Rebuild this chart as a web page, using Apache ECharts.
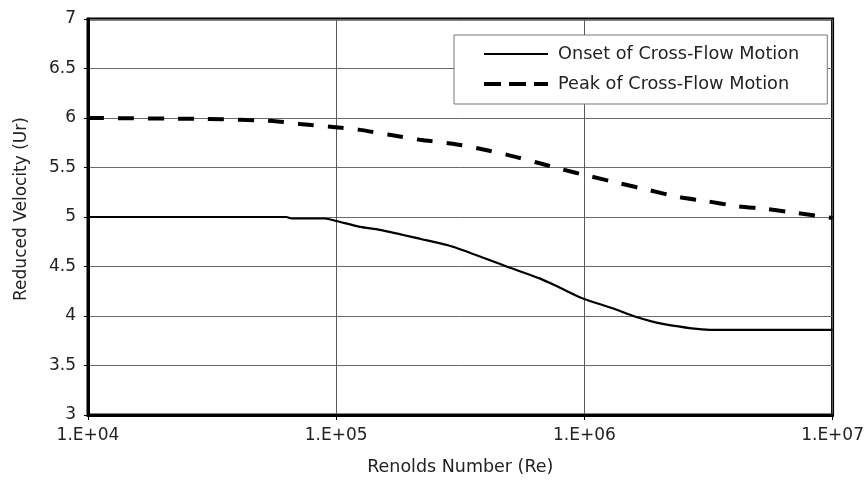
<!DOCTYPE html>
<html>
<head>
<meta charset="utf-8">
<script src="https://cdn.jsdelivr.net/npm/echarts@6/dist/echarts.min.js"></script>
<style>
  html, body { margin: 0; padding: 0; background: #fff; }
  #chart { width: 867px; height: 481px; }
</style>
</head>
<body>
<div id="chart"></div>
<script>
// Reynolds numbers and reduced velocities for the two curves
const onsetRe = [1e4, 6.3e4, 6.6e4, 9.0e4, 1.0e5, 1.25e5, 1.5e5, 2.17e5, 2.95e5, 4.86e5, 6.6e5, 7.9e5, 9.8e5, 1.29e6, 1.62e6, 2.07e6, 3.2e6, 1e7];
const onsetUr = [5.00, 5.00, 4.985, 4.985, 4.96, 4.90, 4.87, 4.78, 4.70, 4.50, 4.38, 4.29, 4.18, 4.08, 3.99, 3.92, 3.86, 3.86];

const peakRe = [1e4, 3.0e4, 5.56e4, 7.14e4, 9.7e4, 1.245e5, 1.64e5, 2.17e5, 2.95e5, 3.79e5, 4.86e5, 6.43e5, 8.18e5, 1.02e6, 1.39e6, 1.83e6, 2.42e6, 3.11e6, 4.11e6, 5.43e6, 7.16e6, 1e7];
const peakUr = [6.00, 5.99, 5.97, 5.94, 5.91, 5.88, 5.83, 5.78, 5.74, 5.69, 5.63, 5.55, 5.48, 5.42, 5.34, 5.27, 5.20, 5.16, 5.11, 5.08, 5.04, 4.99];

const seriesNames = ['Onset of Cross-Flow Motion', 'Peak of Cross-Flow Motion'];
const xTickLabels = ['1.E+04', '1.E+05', '1.E+06', '1.E+07'];
const yTicks = [3, 3.5, 4, 4.5, 5, 5.5, 6, 6.5, 7];

const FONT = 'DejaVu Sans';
const pairs = (xs, ys) => xs.map((x, i) => [x, ys[i]]);

const chart = echarts.init(document.getElementById('chart'), null, { renderer: 'canvas' });
chart.setOption({
  animation: false,
  backgroundColor: '#fff',
  textStyle: { fontFamily: FONT },
  grid: {
    left: 88, right: 34, top: 19, bottom: 66,
    show: true, borderColor: '#000', borderWidth: 3, backgroundColor: 'transparent'
  },
  legend: {
    orient: 'vertical',
    left: 454, top: 35,
    padding: [10, 28, 11, 28],
    backgroundColor: '#fff',
    borderColor: '#777', borderWidth: 1,
    itemWidth: 64, itemHeight: 18, itemGap: 12,
    itemStyle: { opacity: 0 },
    textStyle: { fontFamily: FONT, fontSize: 17.7, color: '#222', lineHeight: 18, padding: [0, 0, 0, 5] },
    data: [
      { name: seriesNames[0], lineStyle: { type: 'solid', width: 2, color: '#000' } },
      { name: seriesNames[1], lineStyle: { type: [17, 8], width: 4, color: '#000' } }
    ]
  },
  xAxis: {
    type: 'log', logBase: 10, min: 1e4, max: 1e7,
    name: 'Renolds Number (Re)', nameLocation: 'middle', nameGap: 43,
    nameTextStyle: { fontFamily: FONT, fontSize: 17.5, color: '#222' },
    axisLine: { show: true, lineStyle: { color: '#000', width: 3 } },
    axisTick: { show: true, inside: false, length: 5, lineStyle: { color: '#000', width: 1 } },
    minorTick: { show: false },
    axisLabel: {
      fontFamily: FONT, fontSize: 17, color: '#222', margin: 12,
      formatter: v => xTickLabels[Math.round(Math.log10(v)) - 4]
    },
    splitLine: { show: true, lineStyle: { color: '#5a5a5a', width: 1 } }
  },
  yAxis: {
    type: 'value', min: yTicks[0], max: yTicks[yTicks.length - 1], interval: 0.5,
    name: 'Reduced Velocity (Ur)', nameLocation: 'middle', nameRotate: 90, nameGap: 58,
    nameTextStyle: { fontFamily: FONT, fontSize: 17, color: '#222', padding: [0, 0, 0, 16] },
    axisLine: { show: true, lineStyle: { color: '#000', width: 3 } },
    axisTick: { show: true, inside: false, length: 4, lineStyle: { color: '#000', width: 1 } },
    axisLabel: {
      fontFamily: FONT, fontSize: 17, color: '#222', margin: 12,
      formatter: v => String(yTicks.find(t => Math.abs(t - v) < 1e-9) ?? v)
    },
    splitLine: { show: true, lineStyle: { color: '#6a6a6a', width: 1 } }
  },
  series: [
    {
      name: seriesNames[0], type: 'line', data: pairs(onsetRe, onsetUr),
      showSymbol: false, symbol: 'none', smooth: 0.25,
      itemStyle: { color: '#000' },
      lineStyle: { color: '#000', width: 2.2, type: 'solid' }
    },
    {
      name: seriesNames[1], type: 'line', data: pairs(peakRe, peakUr),
      showSymbol: false, symbol: 'none', smooth: 0.25,
      itemStyle: { color: '#000' },
      lineStyle: { color: '#000', width: 4, type: [16, 14] }
    }
  ]
});
</script>
</body>
</html>
